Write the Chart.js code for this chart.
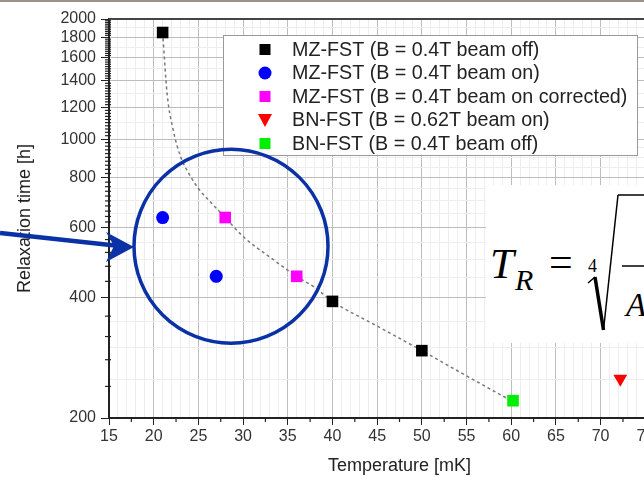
<!DOCTYPE html>
<html>
<head>
<meta charset="utf-8">
<script src="https://cdn.jsdelivr.net/npm/chart.js@4.4.1/dist/chart.umd.min.js"></script>
<style>
    html, body { margin: 0; padding: 0; background: #fff; overflow: hidden; }
    #wrap { position: relative; width: 644px; height: 477px; overflow: hidden; }
    #chart { position: absolute; left: 0; top: 0; }
    #strip { position: absolute; left: 0; top: 0; width: 644px; height: 2px; background: #9b9185; }
    #formula { position: absolute; left: 486px; top: 185px; width: 160px; height: 158px; background: #fff; overflow: hidden; }
    #formula span { position: absolute; line-height: 1; font-family: "Liberation Serif", "Times New Roman", serif; color: #000; white-space: nowrap; }
    #formula svg { position: absolute; left: 0; top: 0; }
</style>
</head>
<body>
<div id="wrap">
    <canvas id="chart" width="720" height="477"></canvas>
    <div id="strip"></div>
    <div id="formula">
        <span style="left:4px;top:57px;font-size:43px;font-style:italic;">T</span>
        <span style="left:29px;top:80px;font-size:30px;font-style:italic;">R</span>
        <span style="left:63px;top:56px;font-size:42px;">=</span>
        <span style="left:102px;top:72px;font-size:18px;">4</span>
        <svg width="160" height="158">
            <line x1="102" y1="98" x2="109" y2="92" stroke="#000" stroke-width="1.5"/>
            <line x1="109" y1="92" x2="117.5" y2="145" stroke="#000" stroke-width="3.5"/>
            <line x1="117.5" y1="145" x2="132" y2="10" stroke="#000" stroke-width="1.5"/>
            <line x1="132" y1="10" x2="160" y2="10" stroke="#000" stroke-width="1.5"/>
            <line x1="136" y1="81" x2="160" y2="81" stroke="#000" stroke-width="1.5"/>
        </svg>
        <span style="left:140px;top:104px;font-size:33px;font-style:italic;">A</span>
    </div>
</div>
<script>
// series (temperature in mK, relaxation time in h)
const seriesLabels = [
    'MZ-FST (B = 0.4T beam off)',
    'MZ-FST (B = 0.4T beam on)',
    'MZ-FST (B = 0.4T beam on corrected)',
    'BN-FST (B = 0.62T beam on)',
    'BN-FST (B = 0.4T beam off)'
];
const mzOffT = [21, 40, 50];
const mzOffTau = [1850, 392, 295];
const mzOnT = [21, 27];
const mzOnTau = [636, 453];
const mzCorrT = [28, 36];
const mzCorrTau = [636, 453];
const bn62T = [72.2];
const bn62Tau = [251];
const bn04T = [60.2];
const bn04Tau = [221];

// dotted fit curve
const fitT = [21, 21.5, 22.2, 23, 24, 25, 26.5, 28, 30, 33, 36, 38, 40, 45, 50, 55, 60];
const fitTau = [1850, 1300, 1050, 905, 815, 752, 690, 636, 570, 506, 453, 425, 392, 340, 295, 255, 221];

const yLabels = [200, 400, 600, 800, 1000, 1200, 1400, 1600, 1800, 2000];
const xMin = 15, xMax = 80, xStep = 5;

const colors = ['#000000', '#0000ff', '#ff00ff', '#ff0000', '#00ee00'];
const shapes = ['rect', 'circle', 'rect', 'triangle', 'rect'];

function pts(xs, ys) {
    return xs.map((x, i) => ({ x: x, y: ys[i] }));
}

function drawMarker(ctx, shape, x, y, color) {
    ctx.fillStyle = color;
    ctx.beginPath();
    if (shape === 'rect') {
        ctx.rect(x - 5.5, y - 5.5, 11, 11);
    } else if (shape === 'circle') {
        ctx.arc(x, y, 6.5, 0, Math.PI * 2);
    } else {
        ctx.moveTo(x - 7, y - 6);
        ctx.lineTo(x + 7, y - 6);
        ctx.lineTo(x, y + 7);
        ctx.closePath();
    }
    ctx.fill();
}

const overlay = {
    id: 'overlay',
    beforeDatasetsDraw(chart) {
        const ctx = chart.ctx;
        const xs = chart.scales.x, ys = chart.scales.y;
        const area = chart.chartArea;
        ctx.save();
        ctx.strokeStyle = '#222';
        ctx.lineWidth = 1.2;
        // minor x marks
        for (let v = xMin + 2.5; v < xMax; v += xStep) {
            const px = xs.getPixelForValue(v);
            ctx.beginPath();
            ctx.moveTo(px, area.bottom);
            ctx.lineTo(px, area.bottom + 4);
            ctx.stroke();
        }
        // minor y marks
        const marks = [];
        for (let v = 240; v < 600; v += 40) marks.push(v);
        for (let v = 620; v < 2000; v += 20) marks.push(v);
        marks.forEach(v => {
            if (yLabels.includes(v)) return;
            const py = ys.getPixelForValue(v);
            ctx.beginPath();
            ctx.moveTo(area.left - 4, py);
            ctx.lineTo(area.left + 2, py);
            ctx.stroke();
        });
        // top frame
        ctx.lineWidth = 2;
        ctx.strokeStyle = '#444';
        ctx.beginPath();
        ctx.moveTo(area.left, area.top);
        ctx.lineTo(area.right, area.top);
        ctx.stroke();
        ctx.restore();
    },
    afterDatasetsDraw(chart) {
        // legend box inside the plot
        const ctx = chart.ctx;
        ctx.save();
        ctx.fillStyle = '#fff';
        ctx.fillRect(223.5, 35.5, 414, 120);
        ctx.strokeStyle = '#999';
        ctx.lineWidth = 1;
        ctx.strokeRect(223.5, 35.5, 414, 120);
        ctx.font = '19.7px "Liberation Sans", Arial, sans-serif';
        ctx.textBaseline = 'middle';
        seriesLabels.forEach((label, i) => {
            const y = 49.5 + i * 23.5;
            drawMarker(ctx, shapes[i], 265, y, colors[i]);
            ctx.fillStyle = '#222';
            ctx.fillText(label, 292, y + 1);
        });
        ctx.restore();
    },
    afterDraw(chart) {
        const ctx = chart.ctx;
        const xs = chart.scales.x, ys = chart.scales.y;
        const cx = xs.getPixelForValue(28.65);
        const cy = ys.getPixelForValue(539);
        ctx.save();
        ctx.strokeStyle = '#0a31a5';
        ctx.fillStyle = '#0a31a5';
        ctx.lineWidth = 3.5;
        ctx.beginPath();
        ctx.arc(cx, cy, 97, 0, Math.PI * 2);
        ctx.stroke();
        // arrow from the left edge
        ctx.lineWidth = 4.5;
        ctx.beginPath();
        ctx.moveTo(0, 233);
        ctx.lineTo(115, 245.5);
        ctx.stroke();
        ctx.beginPath();
        ctx.moveTo(134, 247);
        ctx.lineTo(106, 232);
        ctx.lineTo(114, 246);
        ctx.lineTo(106, 262);
        ctx.closePath();
        ctx.fill();
        ctx.restore();
    }
};

const tickFont = { family: '"Liberation Sans", Arial, sans-serif', size: 16 };
const titleFont = { family: '"Liberation Sans", Arial, sans-serif', size: 18 };

const datasets = [
    [mzOffT, mzOffTau], [mzOnT, mzOnTau], [mzCorrT, mzCorrTau], [bn62T, bn62Tau], [bn04T, bn04Tau]
].map((s, i) => ({
    label: seriesLabels[i],
    data: pts(s[0], s[1]),
    pointStyle: shapes[i],
    pointRadius: shapes[i] === 'rect' ? 8.2 : (shapes[i] === 'circle' ? 6.5 : 8),
    pointRotation: shapes[i] === 'triangle' ? 180 : 0,
    backgroundColor: colors[i],
    borderColor: colors[i],
    borderWidth: 0,
    showLine: false,
    order: 1
}));

datasets.push({
    label: 'fit',
    data: pts(fitT, fitTau),
    showLine: true,
    pointRadius: 0,
    borderColor: '#7a7a7a',
    borderWidth: 1.5,
    borderDash: [3, 3],
    cubicInterpolationMode: 'monotone',
    order: 10
});

new Chart(document.getElementById('chart').getContext('2d'), {
    type: 'scatter',
    data: { datasets: datasets },
    options: {
        responsive: false,
        animation: false,
        layout: { padding: { top: 19, left: 0, right: 30, bottom: 0 } },
        plugins: { legend: { display: false }, tooltip: { enabled: false } },
        scales: {
            x: {
                type: 'linear',
                min: xMin,
                max: xMax,
                afterBuildTicks: scale => {
                    const t = [];
                    for (let v = xMin; v <= xMax; v++) t.push({ value: v });
                    scale.ticks = t;
                },
                afterFit: scale => { scale.height = 59; },
                ticks: {
                    autoSkip: false,
                    maxRotation: 0,
                    padding: 2,
                    color: '#333',
                    font: tickFont,
                    callback: v => (v % xStep === 0 ? String(v) : '')
                },
                grid: {
                    color: c => (c.tick && c.tick.value % xStep === 0 ? '#bdbdbd' : '#ededed'),
                    tickColor: c => (c.tick && c.tick.value % xStep === 0 ? '#222' : 'rgba(0,0,0,0)'),
                    tickLength: 7,
                    lineWidth: 1
                },
                border: { color: '#222', width: 2 },
                title: {
                    display: true,
                    text: 'Temperature [mK]',
                    color: '#222',
                    font: titleFont,
                    padding: { top: 0, bottom: 0 }
                }
            },
            y: {
                type: 'logarithmic',
                min: 200,
                max: 2000,
                afterBuildTicks: scale => {
                    const t = [];
                    for (let v = 200; v < 1000; v += 50) t.push({ value: v });
                    for (let v = 1000; v <= 2000; v += 100) t.push({ value: v });
                    scale.ticks = t;
                },
                afterFit: scale => { scale.width = 109; },
                ticks: {
                    autoSkip: false,
                    padding: 5,
                    color: '#333',
                    font: tickFont,
                    callback: v => (yLabels.includes(v) ? String(v) : '')
                },
                grid: {
                    color: c => (c.tick && yLabels.includes(c.tick.value) ? '#bdbdbd' : '#ededed'),
                    tickColor: c => (c.tick && yLabels.includes(c.tick.value) ? '#222' : 'rgba(0,0,0,0)'),
                    tickLength: 8,
                    lineWidth: 1
                },
                border: { color: '#222', width: 2 },
                title: {
                    display: true,
                    text: 'Relaxation time [h]',
                    color: '#222',
                    font: titleFont,
                    padding: { top: 14, bottom: 0 }
                }
            }
        }
    },
    plugins: [overlay]
});
</script>
</body>
</html>
